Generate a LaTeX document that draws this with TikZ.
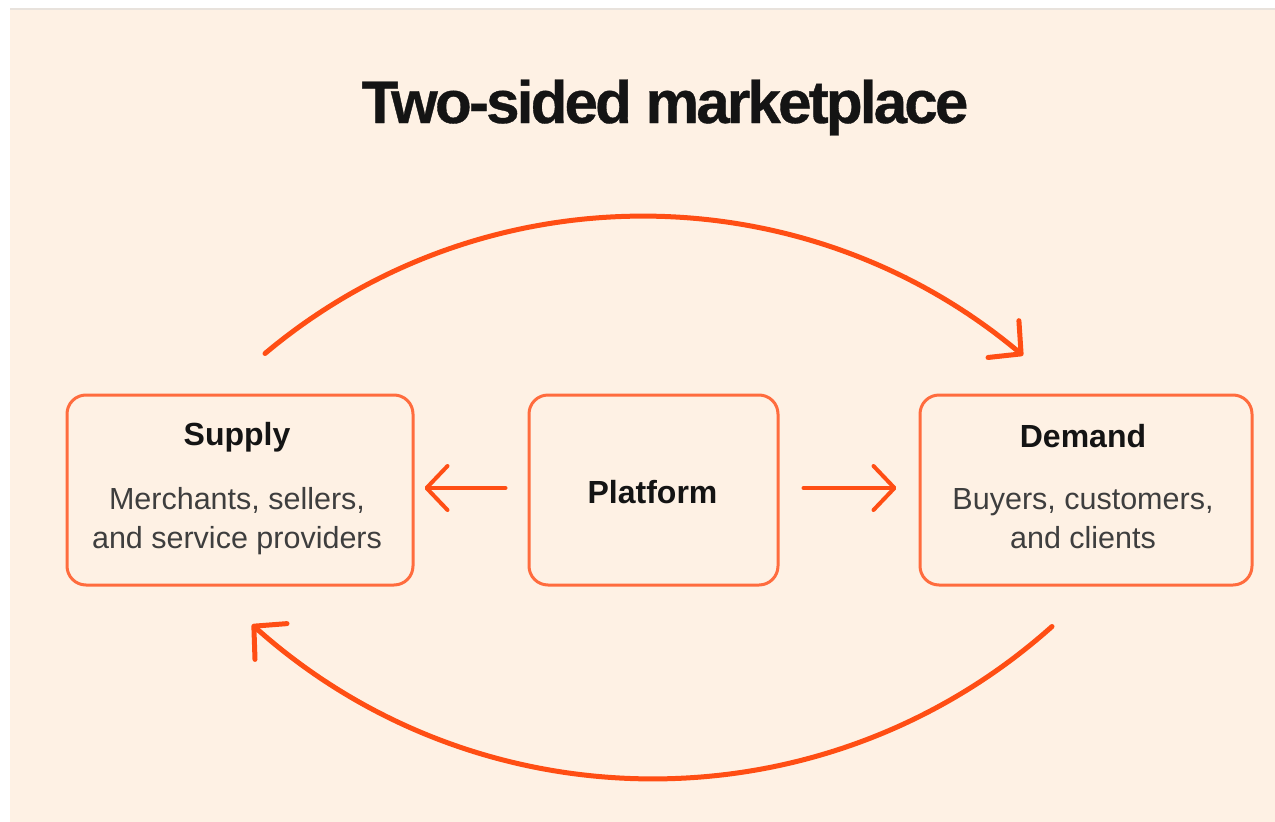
\documentclass[tikz,border=0pt]{standalone}
\usepackage{fontspec}
\setmainfont{Liberation Sans}
\usetikzlibrary{arrows.meta,calc}

\definecolor{paper}{RGB}{254,241,228}
\definecolor{rimline}{RGB}{232,226,220}
\definecolor{boxline}{RGB}{255,108,62}
\definecolor{flow}{RGB}{255,78,20}
\definecolor{ink}{RGB}{20,20,20}
\definecolor{subink}{RGB}{62,62,62}

\tikzset{
  card/.style={draw=boxline, line width=3pt, rounded corners=19pt,
    minimum height=190pt, inner sep=0pt},
  heading/.style={font=\fontsize{32}{36}\selectfont\bfseries, text=ink, anchor=base},
  detail/.style={font=\fontsize{30.5}{34}\selectfont, text=subink, anchor=base},
  flowline/.style={draw=flow, line width=5pt, line cap=round,
    -{Straight Barb[length=23pt,width=48pt,round]}},
  pushline/.style={draw=flow, line width=4pt, line cap=round,
    -{Straight Barb[length=21pt,width=44pt,round]}},
}

\begin{document}
\begin{tikzpicture}[x=1pt,y=-1pt]
  \useasboundingbox (0,0) rectangle (1275,822);
  % page and canvas
  \fill[white] (0,0) rectangle (1275,822);
  \fill[paper] (10,9) rectangle (1275,822);
  \fill[rimline] (10,7.5) rectangle (1275,10);

  % title
  \node[font=\fontsize{60}{66}\selectfont\bfseries\addfontfeatures{LetterSpace=-4.6,FakeBold=0.6},
        text=ink, anchor=base] (title) at (665,123) {Two-sided marketplace};

  % the three parties
  \node[card, minimum width=346pt] (supply)   at (240,490) {};
  \node[card, minimum width=249pt] (platform) at (653.5,490) {};
  \node[card, minimum width=332pt] (demand)   at (1086,490) {};

  \node[heading] (supplyT) at ($(supply.center)+(-3,-45)$) {Supply};
  \node[detail]  (supplyA) at ($(supply.center)+(-3,19)$) {Merchants, sellers,};
  \node[detail]  (supplyB) at ($(supply.center)+(-3,58)$) {and service providers};

  \node[heading] (platformT) at ($(platform.center)+(-1,13)$) {Platform};

  \node[heading] (demandT) at ($(demand.center)+(-3,-43)$) {Demand};
  \node[detail]  (demandA) at ($(demand.center)+(-3,19)$) {Buyers, customers,};
  \node[detail]  (demandB) at ($(demand.center)+(-3,58)$) {and clients};

  % endpoints of the connectors
  \coordinate (topS) at ($(supply.north)+(25,-40)$);
  \coordinate (topE) at ($(demand.north)+(-63,-38)$);
  \coordinate (botS) at ($(demand.south)+(-34,40)$);
  \coordinate (botE) at ($(supply.south)+(12,38)$);

  % platform pushes to both sides
  \draw[pushline] ($(platform.west)+(-22,-2)$) -- ($(supply.east)+(10,-2)$);
  \draw[pushline] ($(platform.east)+(24,-2)$) -- ($(demand.west)+(-22,-2)$);

  % supply to demand over the top, demand back to supply below
  \draw[flowline] (topS) .. controls +(219,-184) and +(-219,-184) .. (topE);
  \draw[flowline] (botS) .. controls +(-228,204) and +(228,204) .. (botE);
\end{tikzpicture}
\end{document}
